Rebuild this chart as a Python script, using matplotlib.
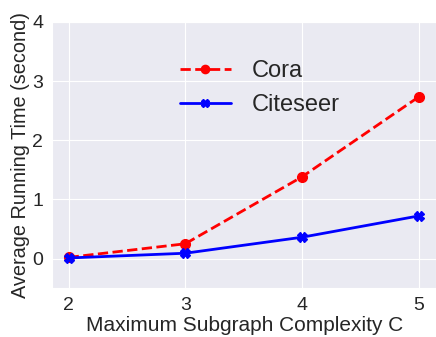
import matplotlib
matplotlib.use('Agg')
import matplotlib.pyplot as plt
import seaborn as sns

complexity = [2, 3, 4, 5]
cora = [0.02, 0.25, 1.38, 2.73]
citeseer = [0.01, 0.09, 0.36, 0.72]

sns.set_style('darkgrid')
plt.rcParams['font.family'] = ['Liberation Sans', 'DejaVu Sans']

fig, ax = plt.subplots(figsize=(4.36, 3.37), dpi=100)
ax.plot(complexity, cora, 'r--o', linewidth=2, markersize=7, label='Cora')
ax.plot(complexity, citeseer, 'b-X', linewidth=2, markersize=7, label='Citeseer')

ax.set_xlim(1.86, 5.15)
ax.set_ylim(-0.5, 4)
ax.set_xticks(complexity)
ax.set_yticks([0, 1, 2, 3, 4])
ax.tick_params(labelsize=14, colors='#262626', pad=3)
ax.set_xlabel('Maximum Subgraph Complexity C', fontsize=15, color='#262626', labelpad=1)
ax.set_ylabel('Average Running Time (second)', fontsize=14.3, color='#262626', labelpad=2)
ax.legend(loc='upper center', bbox_to_anchor=(0.54, 0.936), fontsize=17, frameon=False,
          handlelength=2.2, handletextpad=0.85, labelspacing=0.5, markerscale=0.85)

plt.subplots_adjust(left=0.12, right=1.0, top=0.935, bottom=0.145)
plt.savefig('out.png', dpi=100)
